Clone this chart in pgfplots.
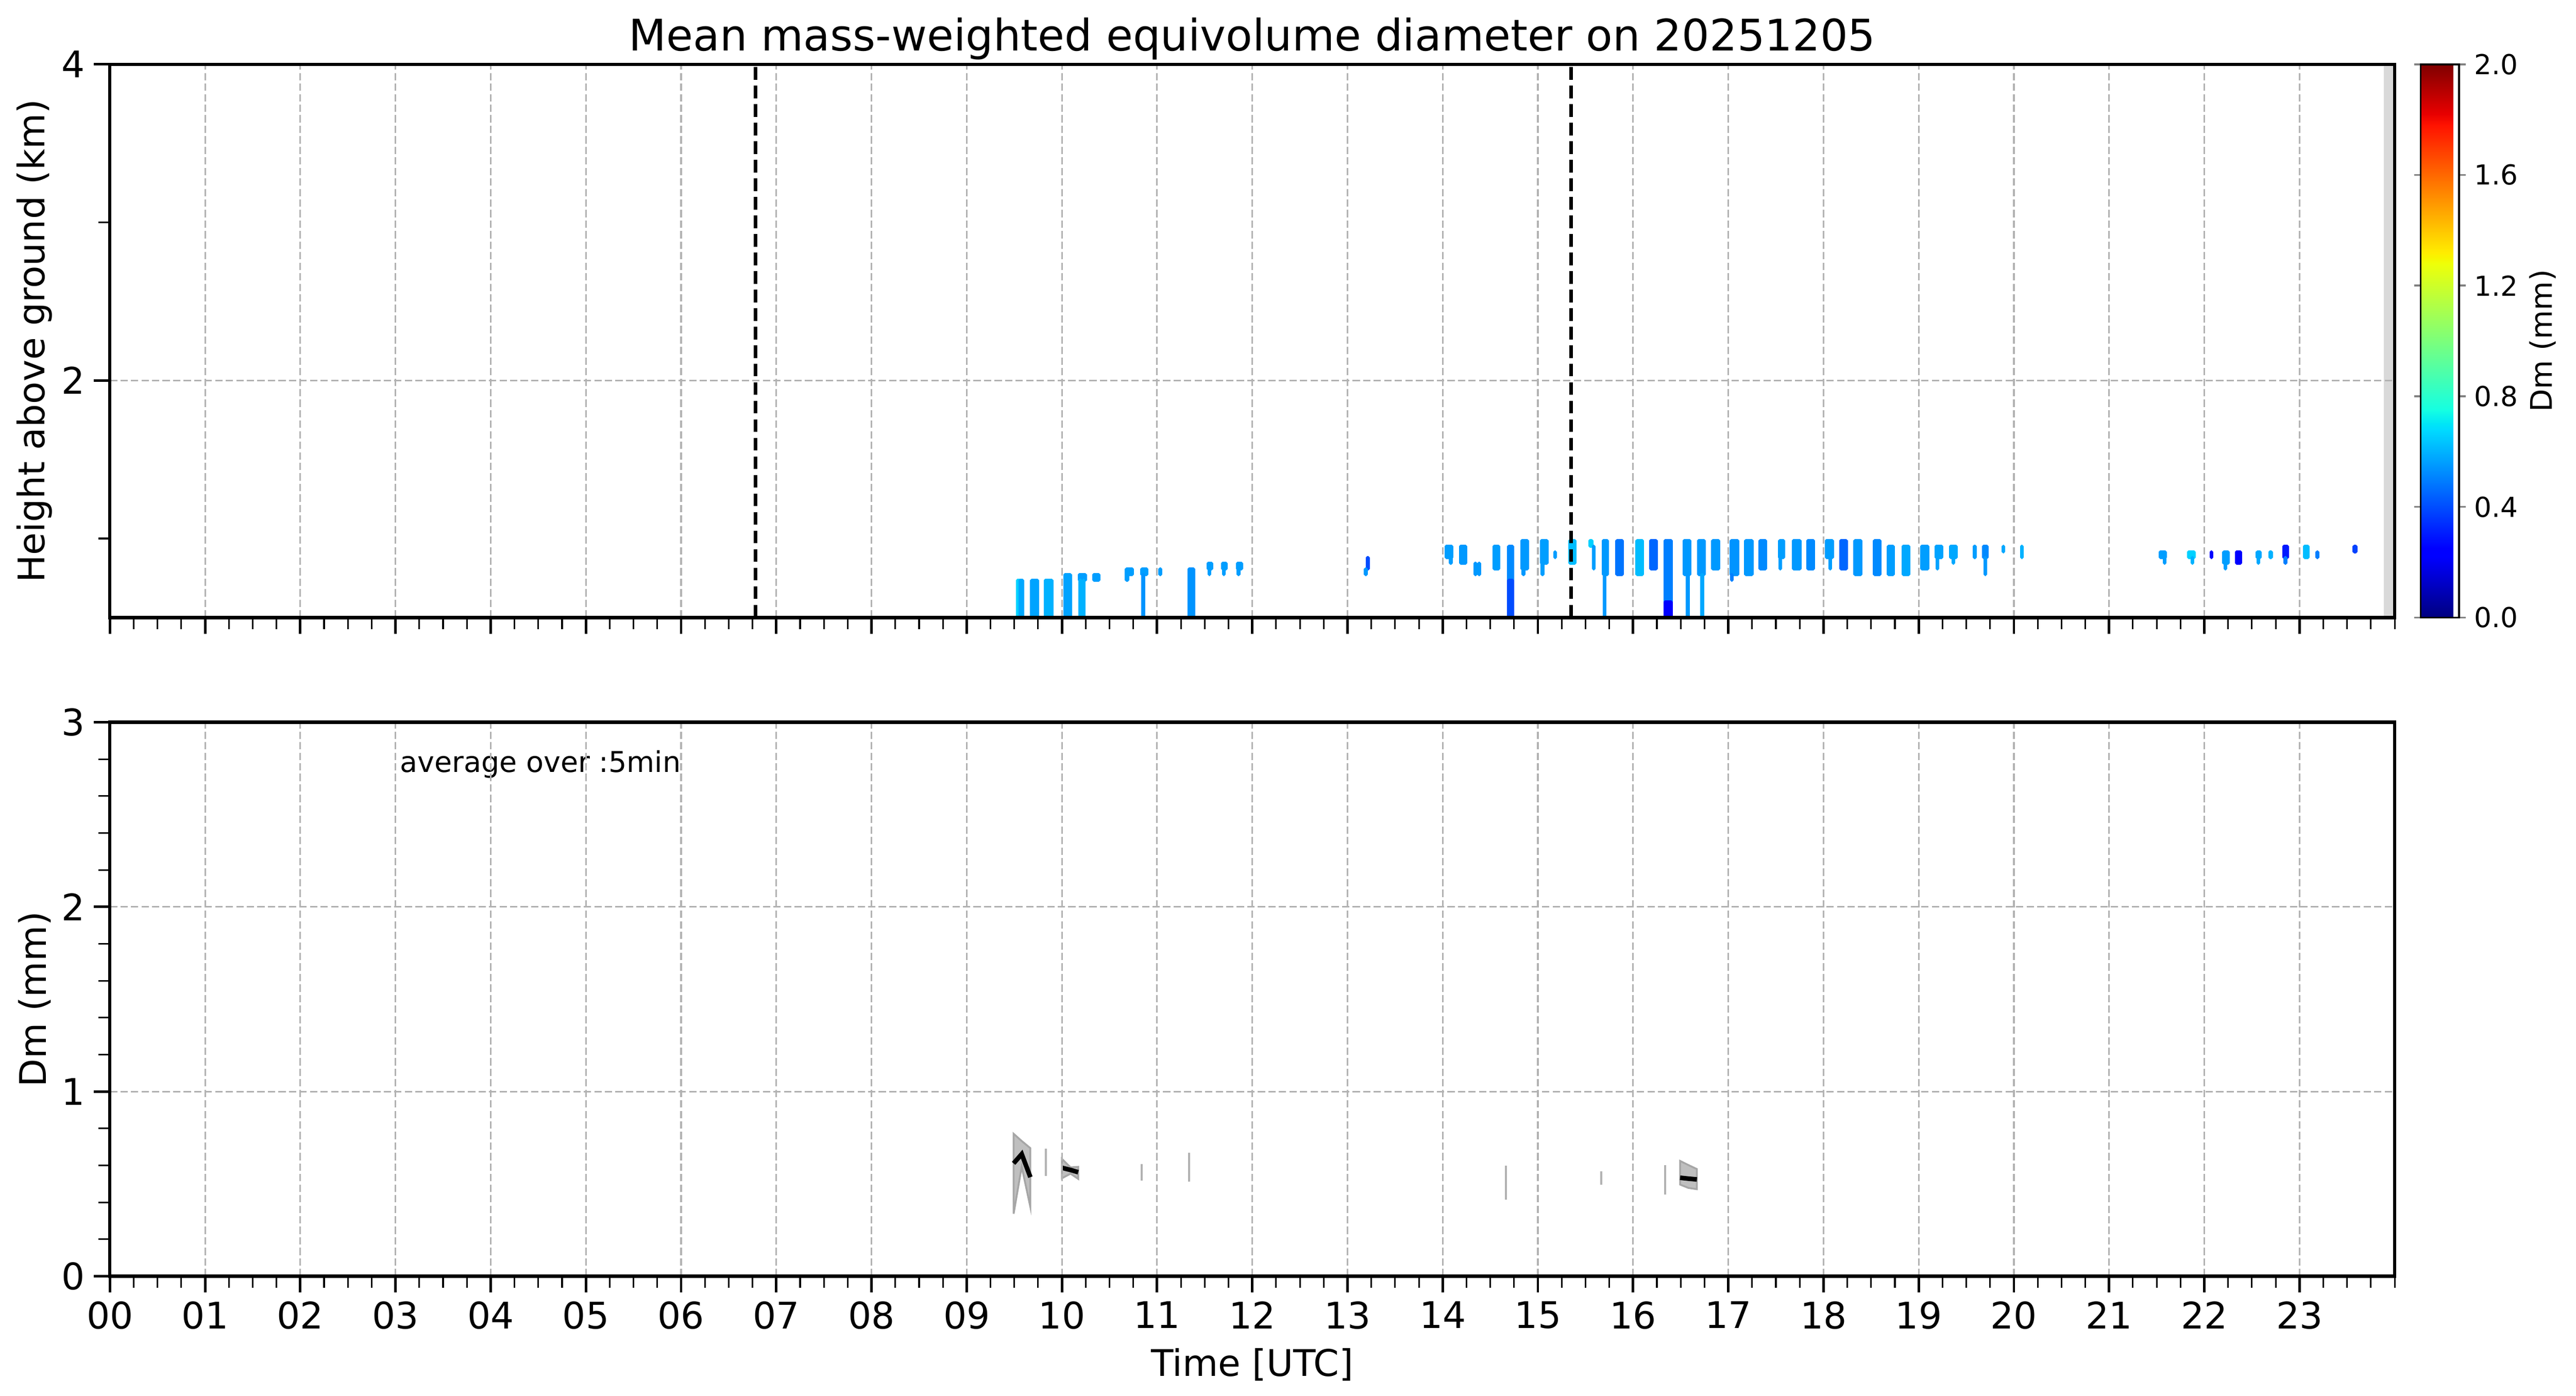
\documentclass[border=0pt]{standalone}
\usepackage{fontspec}
\setmainfont{DejaVu Sans}
\usepackage{pgfplots}
\pgfplotsset{compat=1.18}
\usepgfplotslibrary{patchplots}

\pgfplotsset{
  colormap={mpljet}{rgb(0pt)=(0,0,0.5); rgb(110pt)=(0,0,1); rgb(125pt)=(0,0,1); rgb(340pt)=(0,0.86,1); rgb(350pt)=(0,0.9,0.968); rgb(375pt)=(0.081,1,0.887); rgb(640pt)=(0.935,1,0.032); rgb(650pt)=(0.968,0.963,0); rgb(660pt)=(1,0.926,0); rgb(890pt)=(1,0.074,0); rgb(910pt)=(0.909,0,0); rgb(1000pt)=(0.5,0,0)},
  every axis/.append style={line width=1.4pt},
  mystyle/.style={
    scale only axis, width=998pt,
    xmin=0, xmax=24, enlargelimits=false,
    xtick={0,1,...,23},
    minor xtick={0,0.25,...,24},
    tick align=outside,
    major tick length=7pt, minor tick length=5pt,
    major tick style={line width=1.1pt, black},
    minor tick style={line width=0.7pt, black},
    xtick pos=bottom, ytick pos=left,
    xmajorgrids, ymajorgrids,
    major grid style={line width=0.7pt, black!30, dash pattern=on 3.2pt off 1.4pt},
    tick label style={font=\fontsize{16}{19}\selectfont},
    label style={font=\fontsize{16}{19}\selectfont},
    /pgf/number format/assume math mode=true,
    axis on top,
    ylabel style={at={(axis description cs:-0.033,0.5)}, anchor=center},
  }
}

\newcommand{\cell}[5]{\addplot[patch, patch type=rectangle, shader=flat, point meta=explicit, forget plot] coordinates {(#1,#3) [#5] (#2,#3) [#5] (#2,#4) [#5] (#1,#4) [#5]};}
\newcommand{\vseg}[3]{\addplot[black!30, line width=0.9pt, forget plot] coordinates {(#1,#2) (#1,#3)};}

\begin{document}
\begin{tikzpicture}
% ---------------- top panel ----------------
\begin{axis}[mystyle,
  at={(0,287.6pt)}, anchor=south west,
  height=241.6pt,
  ymin=0.5, ymax=4,
  ytick={0,2,4}, minor ytick={1,3},
  xticklabels={},
  ylabel={Height above ground (km)},
  title={Mean mass-weighted equivolume diameter on 20251205},
  title style={at={(axis description cs:0.5,1)}, anchor=base, font=\fontsize{19}{23}\selectfont},
  colormap name=mpljet,
  point meta min=0, point meta max=2,
  colorbar,
  colorbar style={
    at={(parent axis.north east)}, anchor=north west, xshift=2.8pt,
    width=16.8pt, line width=0.8pt,
    ytick={0,0.4,0.8,1.2,1.6,2.0},
    /pgf/number format/assume math mode=true,
    yticklabel={\pgfmathprintnumber[fixed,fixed zerofill,precision=1,assume math mode=true]{\tick}},
    yticklabel style={font=\fontsize{12}{14}\selectfont},
    major tick length=2.8pt, tick align=outside,
    major tick style={line width=0.8pt},
    ylabel={Dm (mm)},
    ylabel style={at={(axis description cs:3.18,0.5)}, anchor=center, font=\fontsize{13}{15}\selectfont},
  },
]
\addplot[fill=black!15, draw=none, forget plot] coordinates {(23.885,0.5) (24,0.5) (24,4) (23.885,4)} -- cycle;

\cell{9.532}{9.560}{0.5}{0.735}{0.66}
\cell{9.560}{9.588}{0.5}{0.735}{0.58}
\cell{9.683}{9.744}{0.5}{0.735}{0.57}
\cell{9.827}{9.894}{0.5}{0.735}{0.60}
\cell{10.033}{10.089}{0.5}{0.771}{0.57}
\cell{10.184}{10.245}{0.735}{0.771}{0.56}
\cell{10.192}{10.198}{0.5}{0.735}{0.60}
\cell{10.226}{10.232}{0.5}{0.735}{0.60}
\cell{10.334}{10.390}{0.735}{0.771}{0.56}
\cell{10.679}{10.741}{0.771}{0.807}{0.56}
\cell{10.679}{10.690}{0.735}{0.771}{0.56}
\cell{10.841}{10.891}{0.771}{0.807}{0.56}
\cell{10.852}{10.860}{0.5}{0.771}{0.54}
\cell{11.030}{11.040}{0.771}{0.807}{0.56}
\cell{11.336}{11.386}{0.5}{0.807}{0.54}
\cell{11.537}{11.576}{0.807}{0.843}{0.56}
\cell{11.548}{11.553}{0.771}{0.807}{0.56}
\cell{11.687}{11.726}{0.807}{0.843}{0.56}
\cell{11.697}{11.702}{0.771}{0.807}{0.56}
\cell{11.843}{11.888}{0.807}{0.843}{0.56}
\cell{11.853}{11.858}{0.771}{0.807}{0.56}
\cell{13.210}{13.218}{0.807}{0.879}{0.40}
\cell{13.190}{13.198}{0.771}{0.807}{0.55}
\cell{14.037}{14.098}{0.879}{0.951}{0.56}
\cell{14.080}{14.090}{0.843}{0.879}{0.56}
\cell{14.187}{14.243}{0.843}{0.951}{0.55}
\cell{14.340}{14.348}{0.771}{0.843}{0.55}
\cell{14.380}{14.388}{0.771}{0.843}{0.55}
\cell{14.538}{14.588}{0.807}{0.951}{0.56}
\cell{14.694}{14.733}{0.735}{0.951}{0.52}
\cell{14.694}{14.733}{0.5}{0.735}{0.40}
\cell{14.833}{14.889}{0.807}{0.987}{0.55}
\cell{14.845}{14.852}{0.771}{0.807}{0.55}
\cell{15.039}{15.095}{0.843}{0.987}{0.56}
\cell{15.045}{15.052}{0.771}{0.843}{0.56}
\cell{15.178}{15.184}{0.879}{0.915}{0.56}
\cell{15.334}{15.390}{0.843}{0.987}{0.62}
\cell{15.546}{15.568}{0.951}{0.987}{0.66}
\cell{15.585}{15.590}{0.807}{0.951}{0.56}
\cell{15.685}{15.729}{0.771}{0.987}{0.55}
\cell{15.696}{15.702}{0.5}{0.771}{0.55}
\cell{15.830}{15.886}{0.771}{0.987}{0.48}
\cell{16.041}{16.097}{0.771}{0.987}{0.62}
\cell{16.186}{16.242}{0.807}{0.987}{0.45}
\cell{16.336}{16.403}{0.6}{0.987}{0.50}
\cell{16.336}{16.403}{0.5}{0.6}{0.22}
\cell{16.537}{16.598}{0.771}{0.987}{0.55}
\cell{16.572}{16.580}{0.5}{0.771}{0.55}
\cell{16.687}{16.748}{0.771}{0.987}{0.55}
\cell{16.722}{16.730}{0.5}{0.771}{0.58}
\cell{16.837}{16.898}{0.807}{0.987}{0.55}
\cell{17.032}{17.099}{0.771}{0.987}{0.54}
\cell{17.036}{17.040}{0.735}{0.771}{0.50}
\cell{17.183}{17.248}{0.771}{0.987}{0.55}
\cell{17.335}{17.393}{0.807}{0.987}{0.52}
\cell{17.540}{17.580}{0.879}{0.987}{0.56}
\cell{17.545}{17.550}{0.807}{0.879}{0.56}
\cell{17.683}{17.752}{0.807}{0.987}{0.55}
\cell{17.834}{17.893}{0.807}{0.987}{0.52}
\cell{18.029}{18.093}{0.879}{0.987}{0.56}
\cell{18.068}{18.073}{0.807}{0.879}{0.56}
\cell{18.180}{18.239}{0.807}{0.987}{0.45}
\cell{18.331}{18.395}{0.771}{0.987}{0.55}
\cell{18.536}{18.595}{0.771}{0.987}{0.52}
\cell{18.682}{18.731}{0.771}{0.951}{0.56}
\cell{18.838}{18.897}{0.771}{0.951}{0.58}
\cell{19.033}{19.096}{0.807}{0.951}{0.56}
\cell{19.184}{19.243}{0.879}{0.951}{0.57}
\cell{19.195}{19.200}{0.807}{0.879}{0.57}
\cell{19.335}{19.394}{0.879}{0.951}{0.58}
\cell{19.360}{19.366}{0.843}{0.879}{0.58}
\cell{19.584}{19.594}{0.879}{0.951}{0.56}
\cell{19.681}{19.720}{0.879}{0.951}{0.52}
\cell{19.696}{19.701}{0.771}{0.879}{0.55}
\cell{19.889}{19.894}{0.915}{0.951}{0.58}
\cell{20.081}{20.086}{0.879}{0.951}{0.60}
\cell{21.538}{21.592}{0.879}{0.915}{0.56}
\cell{21.580}{21.586}{0.843}{0.879}{0.56}
\cell{21.835}{21.894}{0.879}{0.915}{0.66}
\cell{21.874}{21.880}{0.843}{0.879}{0.60}
\cell{22.074}{22.079}{0.879}{0.915}{0.22}
\cell{22.206}{22.250}{0.843}{0.915}{0.56}
\cell{22.220}{22.225}{0.807}{0.843}{0.56}
\cell{22.337}{22.381}{0.843}{0.915}{0.25}
\cell{22.557}{22.586}{0.879}{0.915}{0.58}
\cell{22.565}{22.570}{0.843}{0.879}{0.58}
\cell{22.688}{22.703}{0.879}{0.915}{0.60}
\cell{22.834}{22.873}{0.879}{0.951}{0.30}
\cell{22.850}{22.855}{0.843}{0.879}{0.50}
\cell{23.053}{23.092}{0.879}{0.951}{0.62}
\cell{23.185}{23.190}{0.879}{0.915}{0.50}
\cell{23.575}{23.595}{0.915}{0.951}{0.38}

\addplot[black, line width=1.6pt, dash pattern=on 5.6pt off 2.5pt, forget plot] coordinates {(6.78,0.5) (6.78,4)};
\addplot[black, line width=1.6pt, dash pattern=on 5.6pt off 2.5pt, forget plot] coordinates {(15.35,0.5) (15.35,4)};
\end{axis}

% ---------------- bottom panel ----------------
\begin{axis}[mystyle,
  at={(0,0)}, anchor=south west,
  height=241.9pt,
  ymin=0, ymax=3,
  ytick={0,1,2,3}, minor y tick num=4,
  xticklabels={00,01,02,03,04,05,06,07,08,09,10,11,12,13,14,15,16,17,18,19,20,21,22,23},
  xlabel={Time [UTC]},
  xlabel style={at={(axis description cs:0.5,-0.16)}, anchor=center},
  ylabel={Dm (mm)},
]
\addplot[fill=black!25, draw=black!35, line width=0.8pt, forget plot] coordinates {(9.493,0.771) (9.578,0.732) (9.669,0.693) (9.669,0.374) (9.578,0.593) (9.493,0.338)} -- cycle;
\addplot[fill=black!25, draw=black!35, line width=0.8pt, forget plot] coordinates {(10.0,0.635) (10.091,0.589) (10.171,0.592) (10.171,0.527) (10.091,0.555) (10.0,0.530)} -- cycle;
\addplot[fill=black!25, draw=black!35, line width=0.8pt, forget plot] coordinates {(16.494,0.624) (16.58,0.602) (16.67,0.580) (16.67,0.471) (16.58,0.478) (16.494,0.496)} -- cycle;
\vseg{9.829}{0.543}{0.690}
\vseg{10.838}{0.517}{0.607}
\vseg{11.334}{0.511}{0.667}
\vseg{14.664}{0.414}{0.599}
\vseg{15.667}{0.496}{0.568}
\vseg{16.334}{0.443}{0.602}
\addplot[black, line width=2pt, forget plot] coordinates {(9.493,0.611) (9.578,0.661) (9.669,0.536)};
\addplot[black, line width=2pt, forget plot] coordinates {(10.0,0.587) (10.091,0.575) (10.171,0.563)};
\addplot[black, line width=2pt, forget plot] coordinates {(16.494,0.533) (16.58,0.528) (16.67,0.524)};
\node[anchor=base west, inner sep=0pt, font=\fontsize{12.5}{15}\selectfont] at (axis cs:3.03,2.73) {average over :5min};
\end{axis}

\pgfresetboundingbox
\path[use as bounding box] (-48pt,-52.2pt) rectangle (1077.2pt,557.3pt);
\end{tikzpicture}
\end{document}
